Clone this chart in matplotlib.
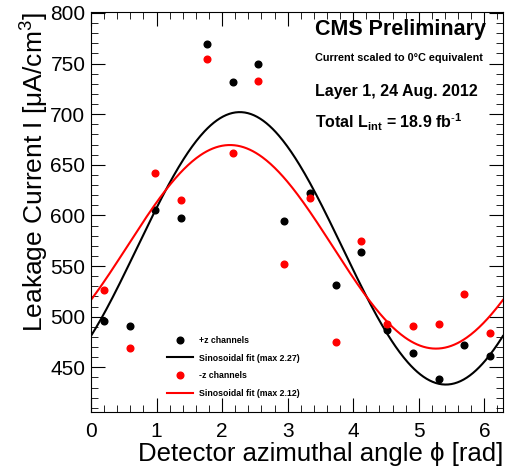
import numpy as np
import matplotlib
matplotlib.use("Agg")
import matplotlib.pyplot as plt
from matplotlib.ticker import MultipleLocator
from matplotlib import font_manager

plt.rcParams['font.family'] = ['Liberation Sans', 'DejaVu Sans']
plt.rcParams['mathtext.fontset'] = 'custom'
plt.rcParams['mathtext.rm'] = 'Liberation Sans'
plt.rcParams['mathtext.bf'] = 'Liberation Sans:bold'

# phi positions of the 16 channel groups
phi = [0.196, 0.589, 0.982, 1.374, 1.767, 2.160, 2.553, 2.945,
       3.338, 3.731, 4.123, 4.516, 4.909, 5.301, 5.694, 6.087]
plus_z = [496, 491, 605, 597, 769, 732, 750, 594,
          622, 531, 564, 487, 464, 438, 472, 461]
minus_z = [526, 469, 642, 615, 754, 662, 733, 552,
           617, 475, 575, 493, 491, 493, 522, 484]

# sinusoidal fit parameters: offset, amplitude, phase of max
fit_plus = (567.5, 134.5, 2.27)
fit_minus = (569.0, 100.5, 2.12)

names = set(f.name for f in font_manager.fontManager.ttflist)
if 'Liberation Sans Narrow' in names:
    leg_font = {'family': 'Liberation Sans Narrow', 'size': 7.5, 'weight': 'bold'}
else:
    leg_font = {'size': 6.3, 'weight': 'bold'}

fig = plt.figure(figsize=(5.08, 4.74), dpi=100)
ax = fig.add_axes([0.179, 0.131, 0.811, 0.844])

x = np.linspace(0, 2 * np.pi, 400)
ax.plot(phi, plus_z, 'o', color='black', ms=4.8, label='+z channels')
ax.plot(x, fit_plus[0] + fit_plus[1] * np.cos(x - fit_plus[2]), color='black', lw=1.5,
        label='Sinosoidal fit (max 2.27)')
ax.plot(phi, minus_z, 'o', color='red', ms=4.8, label='-z channels')
ax.plot(x, fit_minus[0] + fit_minus[1] * np.cos(x - fit_minus[2]), color='red', lw=1.5,
        label='Sinosoidal fit (max 2.12)')

ax.set_xlim(0, 2 * np.pi)
ax.set_ylim(406, 801)
ax.xaxis.set_major_locator(MultipleLocator(1))
ax.xaxis.set_minor_locator(MultipleLocator(0.2))
ax.yaxis.set_major_locator(MultipleLocator(50))
ax.yaxis.set_minor_locator(MultipleLocator(10))
ax.tick_params(which='both', direction='in', top=True, right=True, labelsize=15)
ax.tick_params(which='major', length=10)
ax.tick_params(which='minor', length=5)
ax.tick_params(axis='x', which='major', pad=7)
ax.tick_params(axis='y', which='major', pad=4)

ax.set_xlabel("Detector azimuthal angle \u03d5 [rad]", fontsize=18.5, loc='right', labelpad=1)
ax.set_ylabel("Leakage Current I [\u03bcA/cm$^3$]", fontsize=19, loc='top', labelpad=0)

ax.text(0.545, 0.955, "CMS Preliminary", transform=ax.transAxes, fontsize=15.5,
        fontweight='bold', va='center')
ax.text(0.545, 0.885, "Current scaled to 0\u00b0C equivalent", transform=ax.transAxes,
        fontsize=7.8, fontweight='bold', va='center')
ax.text(0.545, 0.800, "Layer 1, 24 Aug. 2012", transform=ax.transAxes, fontsize=11.5,
        fontweight='bold', va='center')
ax.text(0.545, 0.725, r"Total $\mathbf{L}_{\mathbf{int}}$ = 18.9 fb$^{\text{-}\mathbf{1}}$",
        transform=ax.transAxes, fontsize=11.5, fontweight='bold', va='center')

ax.legend(loc='lower left', bbox_to_anchor=(0.165, 0.015), frameon=False,
          prop=leg_font, handlelength=3.0, labelspacing=1.0,
          handletextpad=0.7)

fig.savefig("out.png", dpi=100)
